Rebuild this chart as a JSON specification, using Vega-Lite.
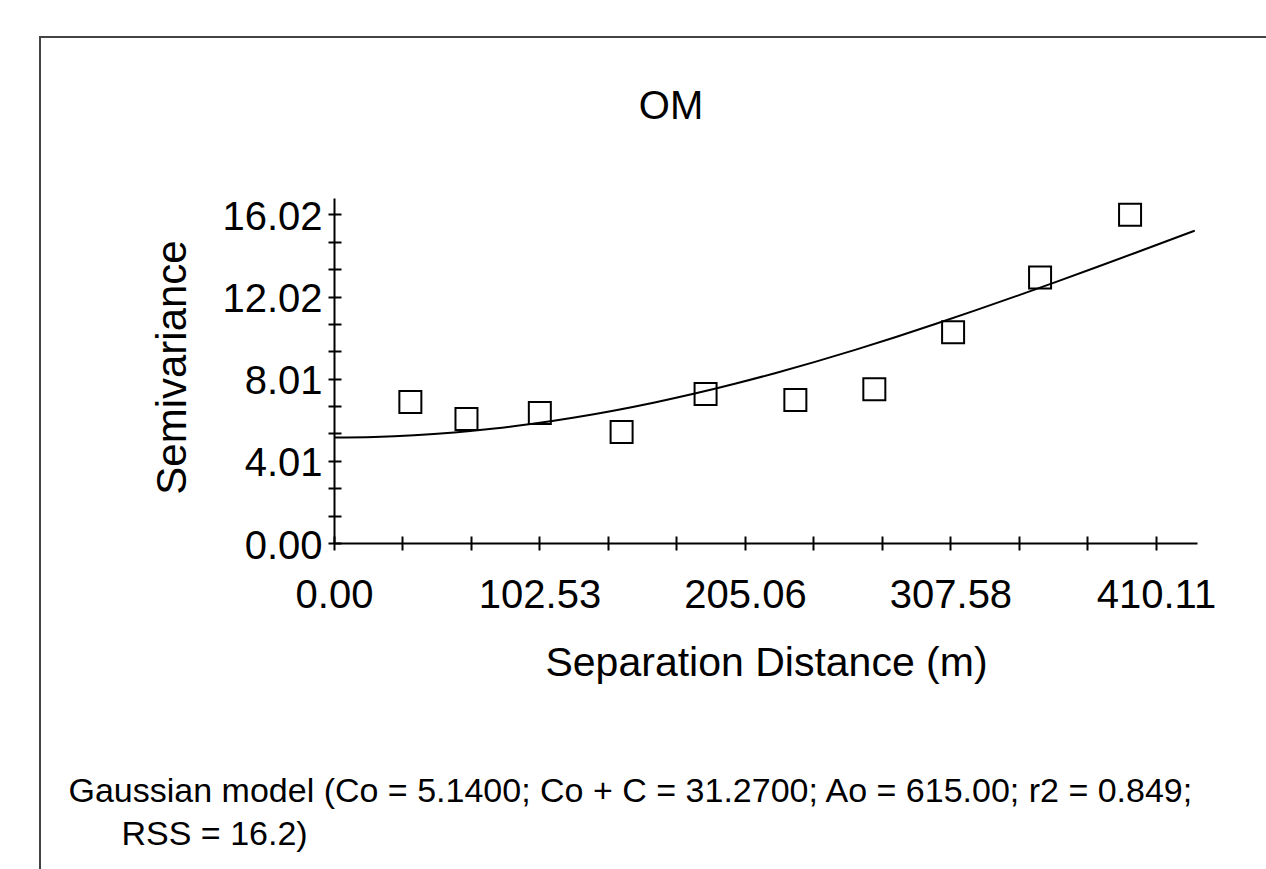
{
  "$schema": "https://vega.github.io/schema/vega-lite/v6.json",
  "width": 1232,
  "height": 838,
  "autosize": {"type": "none"},
  "padding": {"left": 40, "top": 37, "right": 0, "bottom": 0},
  "background": "white",
  "title": {"text": "OM", "fontSize": 40, "font": "Liberation Sans", "fontWeight": "normal", "color": "#000", "anchor": "middle", "frame": "group", "dx": 15, "dy": 90, "baseline": "top", "offset": 0},
  "config": {"view": {"stroke": "#444", "strokeWidth": 2}},
  "datasets": {
    "curve": [
      {"h": 0, "gamma": 5.14}, {"h": 20, "gamma": 5.168}, {"h": 40, "gamma": 5.25}, {"h": 60, "gamma": 5.388},
      {"h": 80, "gamma": 5.578}, {"h": 100, "gamma": 5.822}, {"h": 120, "gamma": 6.116}, {"h": 140, "gamma": 6.46},
      {"h": 160, "gamma": 6.85}, {"h": 180, "gamma": 7.285}, {"h": 200, "gamma": 7.762}, {"h": 220, "gamma": 8.279},
      {"h": 240, "gamma": 8.831}, {"h": 260, "gamma": 9.417}, {"h": 280, "gamma": 10.032}, {"h": 300, "gamma": 10.674},
      {"h": 320, "gamma": 11.339}, {"h": 340, "gamma": 12.022}, {"h": 360, "gamma": 12.721}, {"h": 380, "gamma": 13.432},
      {"h": 400, "gamma": 14.153}, {"h": 420, "gamma": 14.88}, {"h": 429.5, "gamma": 15.23}
    ],
    "points": [
      {"h": 38.1, "gamma": 6.87}, {"h": 66.1, "gamma": 6.05}, {"h": 102.7, "gamma": 6.34}, {"h": 143.5, "gamma": 5.41},
      {"h": 185.4, "gamma": 7.26}, {"h": 230.2, "gamma": 6.97}, {"h": 269.6, "gamma": 7.5}, {"h": 308.9, "gamma": 10.28},
      {"h": 352.3, "gamma": 12.94}, {"h": 397.2, "gamma": 16.0}
    ]
  },
  "layer": [
    {
      "data": {"name": "curve"},
      "mark": {"type": "line", "color": "#000", "strokeWidth": 2, "interpolate": "monotone"},
      "encoding": {
        "x": {
          "field": "h", "type": "quantitative",
          "scale": {"domain": [0, 430.6], "range": [294, 1157], "nice": false, "zero": false},
          "axis": {
            "orient": "bottom", "offset": -332, "grid": false,
            "values": [0, 34.177, 68.353, 102.53, 136.707, 170.883, 205.06, 239.233, 273.407, 307.58, 341.757, 375.933, 410.11],
            "labelExpr": "datum.value === 0 ? '0.00' : datum.value === 102.53 ? '102.53' : datum.value === 205.06 ? '205.06' : datum.value === 307.58 ? '307.58' : datum.value === 410.11 ? '410.11' : ''",
            "labelFont": "Liberation Sans", "labelFontSize": 40, "labelColor": "#000", "labelPadding": 25,
            "labelFlush": false, "labelOverlap": false,
            "tickSize": 7, "tickWidth": 2, "tickColor": "#000", "domainColor": "#000", "domainWidth": 2,
            "title": "Separation Distance (m)", "titleFont": "Liberation Sans", "titleFontSize": 41, "titleFontWeight": "normal",
            "titleColor": "#000", "titleX": 726, "titleY": 120, "titleAlign": "center", "titleBaseline": "middle", "titleAngle": 0
          }
        },
        "y": {
          "field": "gamma", "type": "quantitative",
          "scale": {"domain": [0, 16.82], "range": [506, 161], "nice": false, "zero": false},
          "axis": {
            "orient": "left", "offset": -294, "grid": false,
            "values": [0, 1.335, 2.67, 4.005, 5.34, 6.675, 8.01, 9.345, 10.68, 12.015, 13.35, 14.685, 16.02],
            "labelExpr": "datum.value === 0 ? '0.00' : datum.value === 4.005 ? '4.01' : datum.value === 8.01 ? '8.01' : datum.value === 12.015 ? '12.02' : datum.value === 16.02 ? '16.02' : ''",
            "labelFont": "Liberation Sans", "labelFontSize": 40, "labelColor": "#000", "labelPadding": 6, "labelOffset": 3,
            "labelFlush": false, "labelOverlap": false,
            "tickSize": 6, "tickWidth": 2, "tickColor": "#000", "domainColor": "#000", "domainWidth": 2,
            "title": "Semivariance", "titleFont": "Liberation Sans", "titleFontSize": 42, "titleFontWeight": "normal",
            "titleColor": "#000", "titleX": -162, "titleY": 330, "titleAlign": "center", "titleBaseline": "middle", "titleAngle": -90
          }
        }
      }
    },
    {
      "data": {"name": "points"},
      "mark": {"type": "point", "shape": "square", "filled": false, "size": 484, "stroke": "#000", "strokeWidth": 2, "opacity": 1},
      "encoding": {
        "x": {
          "field": "h", "type": "quantitative",
          "scale": {"domain": [0, 430.6], "range": [294, 1157], "nice": false, "zero": false},
          "axis": {
            "orient": "bottom", "offset": -339, "grid": false, "labels": false, "domain": false,
            "values": [0, 34.177, 68.353, 102.53, 136.707, 170.883, 205.06, 239.233, 273.407, 307.58, 341.757, 375.933, 410.11],
            "tickSize": 7, "tickWidth": 2, "tickColor": "#000",
            "title": "Gaussian model (Co = 5.1400; Co + C = 31.2700; Ao = 615.00; r2 = 0.849;",
            "titleFont": "Liberation Sans", "titleFontSize": 34, "titleFontWeight": "normal", "titleColor": "#000",
            "titleX": 28, "titleY": 238, "titleAlign": "left", "titleBaseline": "top", "titleAngle": 0
          }
        },
        "y": {
          "field": "gamma", "type": "quantitative",
          "scale": {"domain": [0, 16.82], "range": [506, 161], "nice": false, "zero": false},
          "axis": {
            "orient": "left", "offset": -301, "grid": false, "labels": false, "domain": false,
            "values": [0, 1.335, 2.67, 4.005, 5.34, 6.675, 8.01, 9.345, 10.68, 12.015, 13.35, 14.685, 16.02],
            "tickSize": 7, "tickWidth": 2, "tickColor": "#000",
            "title": "RSS = 16.2)",
            "titleFont": "Liberation Sans", "titleFontSize": 34, "titleFontWeight": "normal", "titleColor": "#000",
            "titleX": -220, "titleY": 780, "titleAlign": "left", "titleBaseline": "top", "titleAngle": 0
          }
        }
      }
    }
  ],
  "resolve": {"axis": {"x": "independent", "y": "independent"}}
}
